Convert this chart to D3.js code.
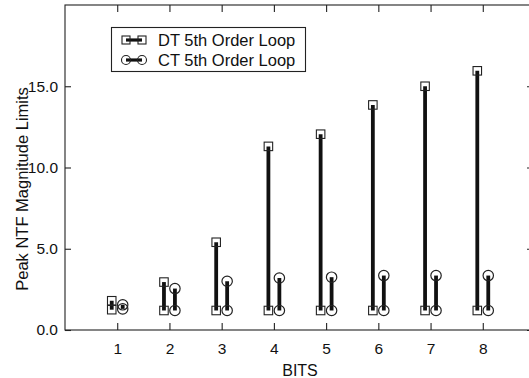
<!DOCTYPE html>
<html>
<head>
<meta charset="utf-8">
<script src="https://cdn.jsdelivr.net/npm/d3@7"></script>
<style>
  html, body { margin: 0; padding: 0; background: #fff; }
  svg { display: block; font-family: "Liberation Sans", Arial, Helvetica, sans-serif; }
</style>
</head>
<body>
<svg id="chart" width="529" height="378"></svg>
<script>
// Resolution in bits
const bits = [1, 2, 3, 4, 5, 6, 7, 8];
// Discrete-time loop: lower / upper peak NTF magnitude limit
const dtLow  = [1.25, 1.2, 1.2, 1.2, 1.2, 1.2, 1.2, 1.2];
const dtHigh = [1.8, 2.95, 5.4, 11.3, 12.05, 13.85, 15.0, 15.95];
// Continuous-time loop: lower / upper peak NTF magnitude limit
const ctLow  = [1.3, 1.2, 1.2, 1.2, 1.2, 1.2, 1.2, 1.2];
const ctHigh = [1.55, 2.55, 3.0, 3.2, 3.25, 3.35, 3.35, 3.35];
const yTicks = [0, 5, 10, 15];
const seriesNames = ["DT 5th Order Loop", "CT 5th Order Loop"];

const svg = d3.select("#chart");
const margin = { left: 65, top: 5, right: -6, bottom: 48 };
const W = 529, H = 378;
const x0 = margin.left, x1 = W - margin.right;
const y0 = H - margin.bottom, y1 = margin.top;

const x = d3.scaleLinear().domain([0, 9]).range([x0, x1]);
const y = d3.scaleLinear().domain([0, 20]).range([y0, y1]);
const ink = "#111";
const off = 0.105;  // horizontal offset of each series from the bit position

// Frame and inward ticks
const g = svg.append("g");
g.append("rect").attr("x", x0).attr("y", y1).attr("width", x1 - x0).attr("height", y0 - y1)
  .attr("fill", "none").attr("stroke", "#222").attr("stroke-width", 1.1);

const axB = g.append("g").attr("transform", `translate(0,${y0})`)
  .call(d3.axisBottom(x).tickValues(bits).tickFormat(d3.format("d")).tickSizeInner(-7).tickSizeOuter(0).tickPadding(13));
const axT = g.append("g").attr("transform", `translate(0,${y1})`)
  .call(d3.axisTop(x).tickValues(bits).tickFormat("").tickSizeInner(-7).tickSizeOuter(0));
const axL = g.append("g").attr("transform", `translate(${x0},0)`)
  .call(d3.axisLeft(y).tickValues(yTicks).tickFormat(d3.format(".1f")).tickSizeInner(-6).tickSizeOuter(0).tickPadding(7));
const axR = g.append("g").attr("transform", `translate(${x1},0)`)
  .call(d3.axisRight(y).tickValues(yTicks).tickFormat("").tickSizeInner(-8).tickSizeOuter(0));
[axB, axT, axL, axR].forEach(a => {
  a.select(".domain").remove();
  a.selectAll("line").attr("stroke", "#222").attr("stroke-width", 1.1);
  a.selectAll("text").attr("fill", ink).style("font-size", "15.5px")
    .style("font-family", "'Liberation Sans', Arial, sans-serif");
});

// Axis titles
svg.append("text").attr("x", (x0 + x1) / 2).attr("y", 376).attr("text-anchor", "middle")
  .attr("fill", ink).style("font-size", "16px").text("BITS");
svg.append("text").attr("transform", `translate(28,189) rotate(-90)`)
  .attr("text-anchor", "middle").attr("fill", ink).style("font-size", "16.5px")
  .text("Peak NTF Magnitude Limits");

// Range bars
const dt = bits.map((b, i) => ({ b, lo: dtLow[i], hi: dtHigh[i] }));
const ct = bits.map((b, i) => ({ b, lo: ctLow[i], hi: ctHigh[i] }));
const sq = 8.5, cr = 5.2;

function drawSeries(data, dx, shape) {
  const s = svg.append("g");
  s.selectAll("line.bar").data(data).join("line")
    .attr("x1", d => x(d.b + dx)).attr("x2", d => x(d.b + dx))
    .attr("y1", d => y(d.lo)).attr("y2", d => y(d.hi))
    .attr("stroke", ink).attr("stroke-width", 3.8);
  const pts = data.flatMap(d => [{ b: d.b, v: d.lo }, { b: d.b, v: d.hi }]);
  if (shape === "square") {
    s.selectAll("rect").data(pts).join("rect")
      .attr("x", d => x(d.b + dx) - sq / 2).attr("y", d => y(d.v) - sq / 2)
      .attr("width", sq).attr("height", sq)
      .attr("fill", "none").attr("stroke", "#222").attr("stroke-width", 1.1);
  } else {
    s.selectAll("circle").data(pts).join("circle")
      .attr("cx", d => x(d.b + dx)).attr("cy", d => y(d.v)).attr("r", cr)
      .attr("fill", "none").attr("stroke", "#222").attr("stroke-width", 1.2);
  }
}
drawSeries(dt, -off, "square");
drawSeries(ct, off, "circle");

// Legend
const lg = svg.append("g");
lg.append("rect").attr("x", 111.5).attr("y", 27.5).attr("width", 194).attr("height", 44)
  .attr("fill", "#fff").attr("stroke", "#222").attr("stroke-width", 1.1);
const lx1 = 126, lx2 = 142;
[0, 1].forEach(i => {
  const ly = 40 + i * 20;
  lg.append("line").attr("x1", lx1).attr("x2", lx2).attr("y1", ly).attr("y2", ly)
    .attr("stroke", ink).attr("stroke-width", 3.2);
  [lx1, lx2].forEach(cx => {
    if (i === 0) {
      lg.append("rect").attr("x", cx - 4).attr("y", ly - 4).attr("width", 8).attr("height", 8)
        .attr("fill", "none").attr("stroke", "#222").attr("stroke-width", 1.1);
    } else {
      lg.append("circle").attr("cx", cx).attr("cy", ly).attr("r", 4.5)
        .attr("fill", "none").attr("stroke", "#222").attr("stroke-width", 1.1);
    }
  });
  lg.append("text").attr("x", 158).attr("y", ly + 6).attr("fill", ink)
    .style("font-size", "16.5px").text(seriesNames[i]);
});
</script>
</body>
</html>
